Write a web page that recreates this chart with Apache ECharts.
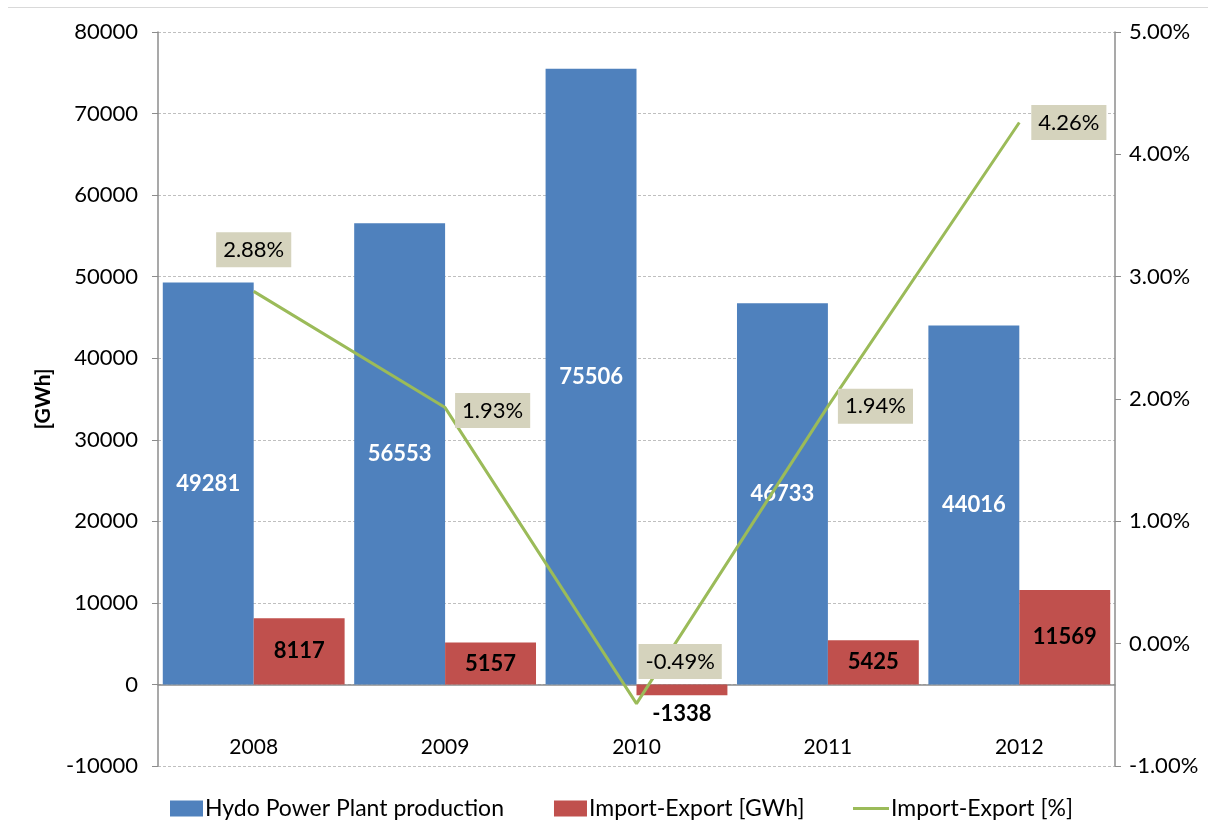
<!DOCTYPE html>
<html>
<head>
<meta charset="utf-8">
<script src="https://cdn.jsdelivr.net/npm/echarts@6/dist/echarts.min.js"></script>
<style>html,body{margin:0;padding:0;background:#fff;}#c{width:1208px;height:837px;}</style>
</head>
<body>
<div id="c"></div>
<script>
const categories = ['2008', '2009', '2010', '2011', '2012'];
const hydroProduction = [49281, 56553, 75506, 46733, 44016];
const importExportGWh = [8117, 5157, -1338, 5425, 11569];
const importExportPct = [2.88, 1.93, -0.49, 1.94, 4.26];
const leftTicks = { min: -10000, max: 80000, interval: 10000 };
const rightTicks = { min: -1, max: 5, interval: 1 };

const FONT = 'Lato, "Noto Sans", sans-serif';
const pctLabelStyles = [
  { position: 'top', distance: 24 },
  { position: 'right', distance: 10, offset: [0, 3] },
  { position: 'right', distance: 2, offset: [0, -42] },
  { position: 'right', distance: 10 },
  { position: 'right', distance: 12 }
];
const legendText = { fontSize: 23, color: '#000', fontFamily: FONT, padding: [0, 0, 0, -3] };

const chart = echarts.init(document.getElementById('c'));
chart.setOption({
  animation: false,
  textStyle: { fontFamily: FONT },
  graphic: [{
    type: 'line', shape: { x1: 8, y1: 7.5, x2: 1208, y2: 7.5 },
    style: { stroke: '#d9d9d9', lineWidth: 1 }
  }],
  grid: { left: 158, right: 93, top: 32, bottom: 71 },
  legend: [{
    bottom: 12, left: 165, itemWidth: 33, itemHeight: 16, itemGap: 50,
    textStyle: legendText,
    data: [
      { name: 'Hydo Power Plant production', icon: 'rect' },
      { name: 'Import-Export [GWh]', icon: 'rect' }
    ]
  }, {
    bottom: 12, left: 848, itemWidth: 36, itemHeight: 3,
    textStyle: legendText,
    data: [{ name: 'Import-Export [%]', icon: 'rect', itemStyle: { color: '#9bbb59' } }]
  }],
  xAxis: [{
    type: 'category', data: categories,
    axisLine: { onZero: true, lineStyle: { color: '#8c8c8c', width: 1.5 } },
    axisTick: { show: false },
    axisLabel: { show: false }
  }, {
    type: 'category', data: categories, position: 'bottom',
    axisLine: { show: false, onZero: false },
    axisTick: { show: false },
    axisLabel: { inside: true, margin: 8, fontSize: 21, color: '#000', fontFamily: FONT }
  }],
  yAxis: [{
    type: 'value', min: leftTicks.min, max: leftTicks.max, interval: leftTicks.interval,
    name: '[GWh]', nameLocation: 'middle', nameRotate: 90, nameGap: 104,
    nameTextStyle: { fontSize: 21, fontWeight: 'bold', color: '#000', fontFamily: FONT },
    axisLine: { show: true, lineStyle: { color: '#8c8c8c', width: 1.5 } },
    axisTick: { show: true, length: 6, lineStyle: { color: '#8c8c8c' } },
    axisLabel: { fontSize: 22, color: '#000', margin: 20, fontFamily: FONT, formatter: v => String(v) },
    splitLine: { show: true, lineStyle: { color: '#bfbfbf', type: [3, 2], width: 1 } }
  }, {
    type: 'value', min: rightTicks.min, max: rightTicks.max, interval: rightTicks.interval,
    position: 'right',
    axisLine: { show: true, lineStyle: { color: '#8c8c8c', width: 1.5 } },
    axisTick: { show: true, length: 6, lineStyle: { color: '#8c8c8c' } },
    axisLabel: { fontSize: 22, color: '#000', margin: 14, fontFamily: FONT,
      formatter: v => v.toFixed(2) + '%' },
    splitLine: { show: false }
  }],
  series: [{
    name: 'Hydo Power Plant production', type: 'bar', yAxisIndex: 0, xAxisIndex: 0,
    data: hydroProduction, barGap: '0%', barCategoryGap: '5%',
    itemStyle: { color: '#4f81bd' },
    label: { show: true, position: 'inside', color: '#fff', fontWeight: 'bold', fontSize: 22, fontFamily: FONT }
  }, {
    name: 'Import-Export [GWh]', type: 'bar', yAxisIndex: 0, xAxisIndex: 0,
    data: importExportGWh.map(v => ({
      value: v,
      label: v < 0 ? { position: 'bottom', distance: 8 } : { position: 'inside' }
    })),
    itemStyle: { color: '#c0504d' },
    label: { show: true, color: '#000', fontWeight: 'bold', fontSize: 22, fontFamily: FONT }
  }, {
    name: 'Import-Export [%]', type: 'line', yAxisIndex: 1, xAxisIndex: 0,
    data: importExportPct.map((v, i) => ({ value: v, label: pctLabelStyles[i] })),
    symbol: 'circle', symbolSize: 0, showSymbol: true, z: 5,
    lineStyle: { color: '#9bbb59', width: 3 },
    itemStyle: { color: '#9bbb59' },
    label: {
      show: true, color: '#000', fontSize: 22, fontFamily: FONT,
      backgroundColor: '#d5d3bd', padding: [7, 7, 6, 7],
      formatter: p => p.value.toFixed(2) + '%'
    }
  }]
});
</script>
</body>
</html>
